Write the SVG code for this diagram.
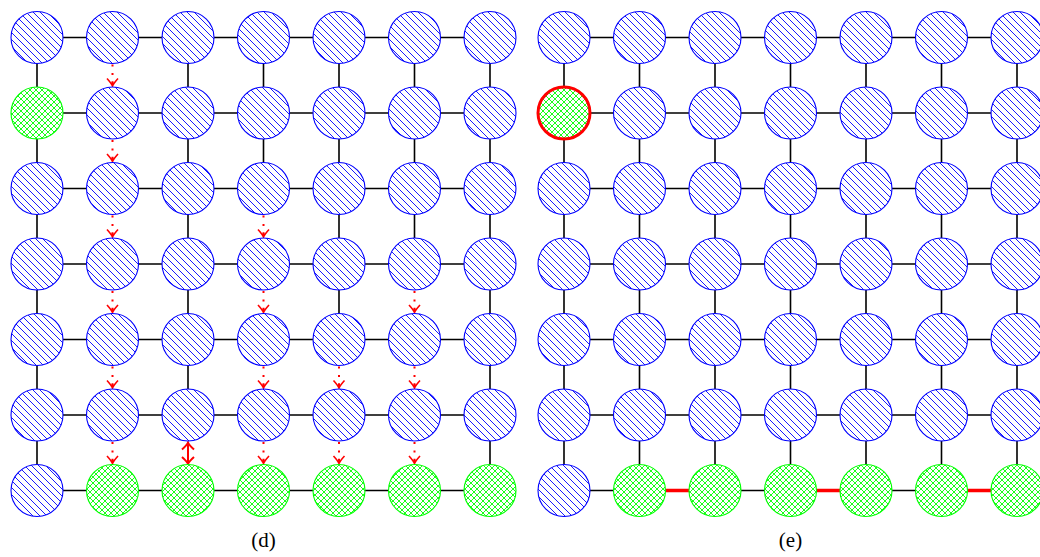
<svg xmlns="http://www.w3.org/2000/svg" width="1040" height="557" viewBox="0 0 1040 557">
<style>
.e{stroke:#000;stroke-width:1.6;fill:none}
.dot{stroke:#f00;stroke-width:2;fill:none;stroke-dasharray:2 6.4;marker-end:url(#ah)}
.dbl{stroke:#f00;stroke-width:2;fill:none;marker-start:url(#ah2);marker-end:url(#ah2)}
.thick{stroke:#f00;stroke-width:3.5;fill:none}
.b{fill:url(#hatch);stroke:#00f;stroke-width:1.1}
.g{fill:url(#cross);stroke:#0f0;stroke-width:1.1}
.sel{fill:url(#cross);stroke:#f00;stroke-width:3}
.lbl{font-family:"Liberation Serif","DejaVu Serif",serif;font-size:21px;fill:#000;text-anchor:middle}
</style>
<defs>
<pattern id="hatch" patternUnits="userSpaceOnUse" width="7" height="7">
<rect width="7" height="7" fill="#fff"/>
<path d="M0,0 L7,7 M-1,6 L1,8 M6,-1 L8,1" stroke="#00f" stroke-width="0.9"/>
</pattern>
<pattern id="cross" patternUnits="userSpaceOnUse" width="6" height="6">
<rect width="6" height="6" fill="#fff"/>
<path d="M0,0 L6,6 M-1,5 L1,7 M5,-1 L7,1 M0,6 L6,0 M-1,1 L1,-1 M5,7 L7,5" stroke="#0f0" stroke-width="0.9"/>
</pattern>
<marker id="ah" markerUnits="userSpaceOnUse" orient="auto" refX="0" refY="0" markerWidth="20" markerHeight="20" viewBox="-10 -10 20 20" overflow="visible">
<path d="M-7.5,-5.5 Q-2.5,-1 0,0 Q-2.5,1 -7.5,5.5 M-4,0 L0,0" stroke="#f00" stroke-width="1.6" fill="none"/>
</marker>
<marker id="ah2" markerUnits="userSpaceOnUse" orient="auto-start-reverse" refX="0" refY="0" markerWidth="20" markerHeight="20" viewBox="-10 -10 20 20" overflow="visible">
<path d="M-7,-6 Q-2.5,-1 0,0 Q-2.5,1 -7,6" stroke="#f00" stroke-width="2" fill="none"/>
</marker>
</defs>
<rect width="1040" height="557" fill="#fff"/>
<g id="connectors">
<path class="e" d="M37,37.5H490 M37,113H490 M37,188.5H490 M37,264H490 M37,339.5H490 M37,415H490 M37,490.5H490"/>
<path class="e" d="M37,37.5V490.5 M490,37.5V490.5 M188,37.5V415 M263.5,37.5V188.5 M339,37.5V339.5 M414.5,37.5V264"/>
<path class="dot" d="M112.5,64.5V86"/>
<path class="dot" d="M112.5,140V161.5"/>
<path class="dot" d="M112.5,215.5V237"/>
<path class="dot" d="M263.5,215.5V237"/>
<path class="dot" d="M112.5,291V312.5"/>
<path class="dot" d="M263.5,291V312.5"/>
<path class="dot" d="M414.5,291V312.5"/>
<path class="dot" d="M112.5,366.5V388"/>
<path class="dot" d="M263.5,366.5V388"/>
<path class="dot" d="M339,366.5V388"/>
<path class="dot" d="M414.5,366.5V388"/>
<path class="dot" d="M112.5,442V463.5"/>
<path class="dot" d="M263.5,442V463.5"/>
<path class="dot" d="M339,442V463.5"/>
<path class="dot" d="M414.5,442V463.5"/>
<path class="dbl" d="M188,442.5V464"/>
<path class="e" d="M564,37.5H1040 M564,113H1040 M564,188.5H1040 M564,264H1040 M564,339.5H1040 M564,415H1040 M564,490.5H639.5 M715,490.5H790.5 M866,490.5H941.5"/>
<path class="e" d="M564,37.5V490.5 M639.5,37.5V490.5 M715,37.5V490.5 M790.5,37.5V490.5 M866,37.5V490.5 M941.5,37.5V490.5 M1017,37.5V490.5"/>
<path class="thick" d="M639.5,490.5H715 M790.5,490.5H866 M941.5,490.5H1017"/>
</g>
<g id="nodes-d">
<g id="d00"><circle class="b" cx="37" cy="37.5" r="26"/></g>
<g id="d01"><circle class="b" cx="112.5" cy="37.5" r="26"/></g>
<g id="d02"><circle class="b" cx="188" cy="37.5" r="26"/></g>
<g id="d03"><circle class="b" cx="263.5" cy="37.5" r="26"/></g>
<g id="d04"><circle class="b" cx="339" cy="37.5" r="26"/></g>
<g id="d05"><circle class="b" cx="414.5" cy="37.5" r="26"/></g>
<g id="d06"><circle class="b" cx="490" cy="37.5" r="26"/></g>
<g id="d10"><circle class="g" cx="37" cy="113" r="26"/></g>
<g id="d11"><circle class="b" cx="112.5" cy="113" r="26"/></g>
<g id="d12"><circle class="b" cx="188" cy="113" r="26"/></g>
<g id="d13"><circle class="b" cx="263.5" cy="113" r="26"/></g>
<g id="d14"><circle class="b" cx="339" cy="113" r="26"/></g>
<g id="d15"><circle class="b" cx="414.5" cy="113" r="26"/></g>
<g id="d16"><circle class="b" cx="490" cy="113" r="26"/></g>
<g id="d20"><circle class="b" cx="37" cy="188.5" r="26"/></g>
<g id="d21"><circle class="b" cx="112.5" cy="188.5" r="26"/></g>
<g id="d22"><circle class="b" cx="188" cy="188.5" r="26"/></g>
<g id="d23"><circle class="b" cx="263.5" cy="188.5" r="26"/></g>
<g id="d24"><circle class="b" cx="339" cy="188.5" r="26"/></g>
<g id="d25"><circle class="b" cx="414.5" cy="188.5" r="26"/></g>
<g id="d26"><circle class="b" cx="490" cy="188.5" r="26"/></g>
<g id="d30"><circle class="b" cx="37" cy="264" r="26"/></g>
<g id="d31"><circle class="b" cx="112.5" cy="264" r="26"/></g>
<g id="d32"><circle class="b" cx="188" cy="264" r="26"/></g>
<g id="d33"><circle class="b" cx="263.5" cy="264" r="26"/></g>
<g id="d34"><circle class="b" cx="339" cy="264" r="26"/></g>
<g id="d35"><circle class="b" cx="414.5" cy="264" r="26"/></g>
<g id="d36"><circle class="b" cx="490" cy="264" r="26"/></g>
<g id="d40"><circle class="b" cx="37" cy="339.5" r="26"/></g>
<g id="d41"><circle class="b" cx="112.5" cy="339.5" r="26"/></g>
<g id="d42"><circle class="b" cx="188" cy="339.5" r="26"/></g>
<g id="d43"><circle class="b" cx="263.5" cy="339.5" r="26"/></g>
<g id="d44"><circle class="b" cx="339" cy="339.5" r="26"/></g>
<g id="d45"><circle class="b" cx="414.5" cy="339.5" r="26"/></g>
<g id="d46"><circle class="b" cx="490" cy="339.5" r="26"/></g>
<g id="d50"><circle class="b" cx="37" cy="415" r="26"/></g>
<g id="d51"><circle class="b" cx="112.5" cy="415" r="26"/></g>
<g id="d52"><circle class="b" cx="188" cy="415" r="26"/></g>
<g id="d53"><circle class="b" cx="263.5" cy="415" r="26"/></g>
<g id="d54"><circle class="b" cx="339" cy="415" r="26"/></g>
<g id="d55"><circle class="b" cx="414.5" cy="415" r="26"/></g>
<g id="d56"><circle class="b" cx="490" cy="415" r="26"/></g>
<g id="d60"><circle class="b" cx="37" cy="490.5" r="26"/></g>
<g id="d61"><circle class="g" cx="112.5" cy="490.5" r="26"/></g>
<g id="d62"><circle class="g" cx="188" cy="490.5" r="26"/></g>
<g id="d63"><circle class="g" cx="263.5" cy="490.5" r="26"/></g>
<g id="d64"><circle class="g" cx="339" cy="490.5" r="26"/></g>
<g id="d65"><circle class="g" cx="414.5" cy="490.5" r="26"/></g>
<g id="d66"><circle class="g" cx="490" cy="490.5" r="26"/></g>
</g>
<g id="nodes-e">
<g id="e00"><circle class="b" cx="564" cy="37.5" r="26"/></g>
<g id="e01"><circle class="b" cx="639.5" cy="37.5" r="26"/></g>
<g id="e02"><circle class="b" cx="715" cy="37.5" r="26"/></g>
<g id="e03"><circle class="b" cx="790.5" cy="37.5" r="26"/></g>
<g id="e04"><circle class="b" cx="866" cy="37.5" r="26"/></g>
<g id="e05"><circle class="b" cx="941.5" cy="37.5" r="26"/></g>
<g id="e06"><circle class="b" cx="1017" cy="37.5" r="26"/></g>
<g id="e10"><circle class="sel" cx="564" cy="113" r="26"/></g>
<g id="e11"><circle class="b" cx="639.5" cy="113" r="26"/></g>
<g id="e12"><circle class="b" cx="715" cy="113" r="26"/></g>
<g id="e13"><circle class="b" cx="790.5" cy="113" r="26"/></g>
<g id="e14"><circle class="b" cx="866" cy="113" r="26"/></g>
<g id="e15"><circle class="b" cx="941.5" cy="113" r="26"/></g>
<g id="e16"><circle class="b" cx="1017" cy="113" r="26"/></g>
<g id="e20"><circle class="b" cx="564" cy="188.5" r="26"/></g>
<g id="e21"><circle class="b" cx="639.5" cy="188.5" r="26"/></g>
<g id="e22"><circle class="b" cx="715" cy="188.5" r="26"/></g>
<g id="e23"><circle class="b" cx="790.5" cy="188.5" r="26"/></g>
<g id="e24"><circle class="b" cx="866" cy="188.5" r="26"/></g>
<g id="e25"><circle class="b" cx="941.5" cy="188.5" r="26"/></g>
<g id="e26"><circle class="b" cx="1017" cy="188.5" r="26"/></g>
<g id="e30"><circle class="b" cx="564" cy="264" r="26"/></g>
<g id="e31"><circle class="b" cx="639.5" cy="264" r="26"/></g>
<g id="e32"><circle class="b" cx="715" cy="264" r="26"/></g>
<g id="e33"><circle class="b" cx="790.5" cy="264" r="26"/></g>
<g id="e34"><circle class="b" cx="866" cy="264" r="26"/></g>
<g id="e35"><circle class="b" cx="941.5" cy="264" r="26"/></g>
<g id="e36"><circle class="b" cx="1017" cy="264" r="26"/></g>
<g id="e40"><circle class="b" cx="564" cy="339.5" r="26"/></g>
<g id="e41"><circle class="b" cx="639.5" cy="339.5" r="26"/></g>
<g id="e42"><circle class="b" cx="715" cy="339.5" r="26"/></g>
<g id="e43"><circle class="b" cx="790.5" cy="339.5" r="26"/></g>
<g id="e44"><circle class="b" cx="866" cy="339.5" r="26"/></g>
<g id="e45"><circle class="b" cx="941.5" cy="339.5" r="26"/></g>
<g id="e46"><circle class="b" cx="1017" cy="339.5" r="26"/></g>
<g id="e50"><circle class="b" cx="564" cy="415" r="26"/></g>
<g id="e51"><circle class="b" cx="639.5" cy="415" r="26"/></g>
<g id="e52"><circle class="b" cx="715" cy="415" r="26"/></g>
<g id="e53"><circle class="b" cx="790.5" cy="415" r="26"/></g>
<g id="e54"><circle class="b" cx="866" cy="415" r="26"/></g>
<g id="e55"><circle class="b" cx="941.5" cy="415" r="26"/></g>
<g id="e56"><circle class="b" cx="1017" cy="415" r="26"/></g>
<g id="e60"><circle class="b" cx="564" cy="490.5" r="26"/></g>
<g id="e61"><circle class="g" cx="639.5" cy="490.5" r="26"/></g>
<g id="e62"><circle class="g" cx="715" cy="490.5" r="26"/></g>
<g id="e63"><circle class="g" cx="790.5" cy="490.5" r="26"/></g>
<g id="e64"><circle class="g" cx="866" cy="490.5" r="26"/></g>
<g id="e65"><circle class="g" cx="941.5" cy="490.5" r="26"/></g>
<g id="e66"><circle class="g" cx="1017" cy="490.5" r="26"/></g>
</g>
<g id="labels">
<text class="lbl" x="263.5" y="547">(d)</text>
<text class="lbl" x="790.5" y="547">(e)</text>
</g>
</svg>
